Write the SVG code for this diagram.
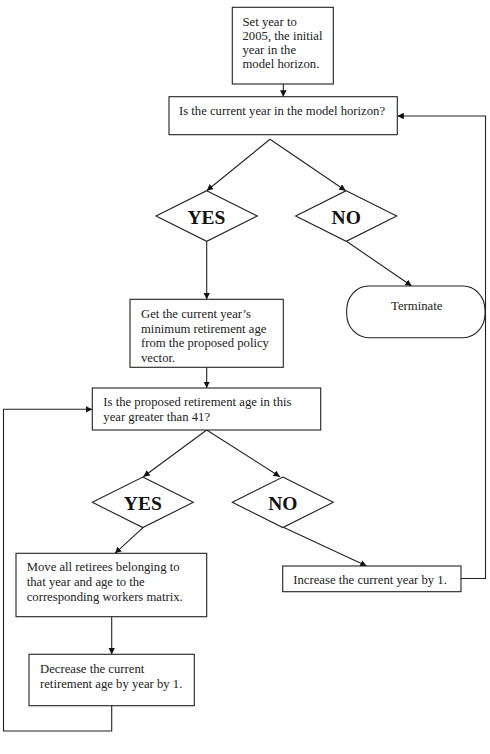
<svg xmlns="http://www.w3.org/2000/svg" width="490" height="754" viewBox="0 0 490 754">
<defs>
<style>
.box{fill:#fff;stroke:#222;stroke-width:1.1}
.t{font-family:"Liberation Serif","Times New Roman",serif;font-size:12.7px;fill:#222}
.big{font-family:"Liberation Serif","Times New Roman",serif;font-size:19.5px;font-weight:bold;fill:#111;text-anchor:middle}
.c{stroke:#222;stroke-width:1.1;fill:none}
</style>
<marker id="ah" viewBox="0 0 10 10" refX="10" refY="5" markerWidth="6.5" markerHeight="6.5" orient="auto" markerUnits="userSpaceOnUse">
<path d="M0,0 L10,5 L0,10 Z" fill="#111"/>
</marker>
</defs>
<rect width="490" height="754" fill="#fff"/>
<g id="connectors">
<line class="c" x1="283.3" y1="84" x2="283.3" y2="96.7" marker-end="url(#ah)"/>
<line class="c" x1="270" y1="139.3" x2="206.7" y2="190.7" marker-end="url(#ah)"/>
<line class="c" x1="270" y1="139.3" x2="345.7" y2="190.7" marker-end="url(#ah)"/>
<line class="c" x1="206.7" y1="241.3" x2="206.7" y2="299.3" marker-end="url(#ah)"/>
<line class="c" x1="346.5" y1="241.3" x2="411.7" y2="286" marker-end="url(#ah)"/>
<line class="c" x1="206.7" y1="367.3" x2="206.7" y2="388" marker-end="url(#ah)"/>
<line class="c" x1="206.7" y1="430" x2="143.3" y2="476.7" marker-end="url(#ah)"/>
<line class="c" x1="206.7" y1="430" x2="280" y2="476.7" marker-end="url(#ah)"/>
<line class="c" x1="143.3" y1="527.3" x2="115" y2="553.3" marker-end="url(#ah)"/>
<line class="c" x1="283.3" y1="527.3" x2="366.7" y2="566" marker-end="url(#ah)"/>
<line class="c" x1="111.7" y1="616.7" x2="111.7" y2="654.3" marker-end="url(#ah)"/>
<polyline class="c" points="461,578.5 485.5,578.5 485.5,116 397.3,116" marker-end="url(#ah)"/>
<polyline class="c" points="111.7,705.7 111.7,731 3.5,731 3.5,409.3 92.3,409.3" marker-end="url(#ah)"/>
</g>
<g id="start">
<rect class="box" x="232.3" y="7.3" width="101" height="76.7"/>
<text class="t" x="242.5" y="26">Set year to</text>
<text class="t" x="242.5" y="40">2005, the initial</text>
<text class="t" x="242.5" y="54">year in the</text>
<text class="t" x="242.5" y="68">model horizon.</text>
</g>
<g id="check-horizon">
<rect class="box" x="169" y="96.7" width="228.3" height="38"/>
<text class="t" x="282" y="115" text-anchor="middle">Is the current year in the model horizon?</text>
</g>
<g id="yes1">
<polygon class="box" points="206.7,190.7 257.3,216 206.7,241.3 156,216"/>
<text class="big" x="206.5" y="223.5">YES</text>
</g>
<g id="no1">
<polygon class="box" points="346.2,190.7 396.7,216 346.2,241.3 295.7,216"/>
<text class="big" x="346.2" y="223.5">NO</text>
</g>
<g id="terminate">
<rect class="box" x="346.7" y="286" width="138.3" height="51.7" rx="22" ry="24"/>
<text class="t" x="416.7" y="310" text-anchor="middle">Terminate</text>
</g>
<g id="get-age">
<rect class="box" x="130" y="299.3" width="153.3" height="68"/>
<text class="t" x="141" y="318">Get the current year’s</text>
<text class="t" x="141" y="332.5">minimum retirement age</text>
<text class="t" x="141" y="347">from the proposed policy</text>
<text class="t" x="141" y="361.5">vector.</text>
</g>
<g id="check-age">
<rect class="box" x="92.3" y="388" width="228.4" height="42"/>
<text class="t" x="103.3" y="406">Is the proposed retirement age in this</text>
<text class="t" x="103.3" y="421">year greater than 41?</text>
</g>
<g id="yes2">
<polygon class="box" points="142.8,477 193.3,502.3 142.8,527.6 92.3,502.3"/>
<text class="big" x="142.8" y="509.8">YES</text>
</g>
<g id="no2">
<polygon class="box" points="282.8,477 333.3,502.3 282.8,527.6 232.3,502.3"/>
<text class="big" x="282.8" y="509.8">NO</text>
</g>
<g id="move-retirees">
<rect class="box" x="16" y="553.3" width="190.7" height="63.4"/>
<text class="t" x="26.7" y="571">Move all retirees belonging to</text>
<text class="t" x="26.7" y="586">that year and age to the</text>
<text class="t" x="26.7" y="601">corresponding workers matrix.</text>
</g>
<g id="increase-year">
<rect class="box" x="282.7" y="566" width="178.3" height="25.7"/>
<text class="t" x="293.3" y="584">Increase the current year by 1.</text>
</g>
<g id="decrease-age">
<rect class="box" x="29" y="654.3" width="165.3" height="51.4"/>
<text class="t" x="40" y="673">Decrease the current</text>
<text class="t" x="40" y="688">retirement age by year by 1.</text>
</g>
</svg>
